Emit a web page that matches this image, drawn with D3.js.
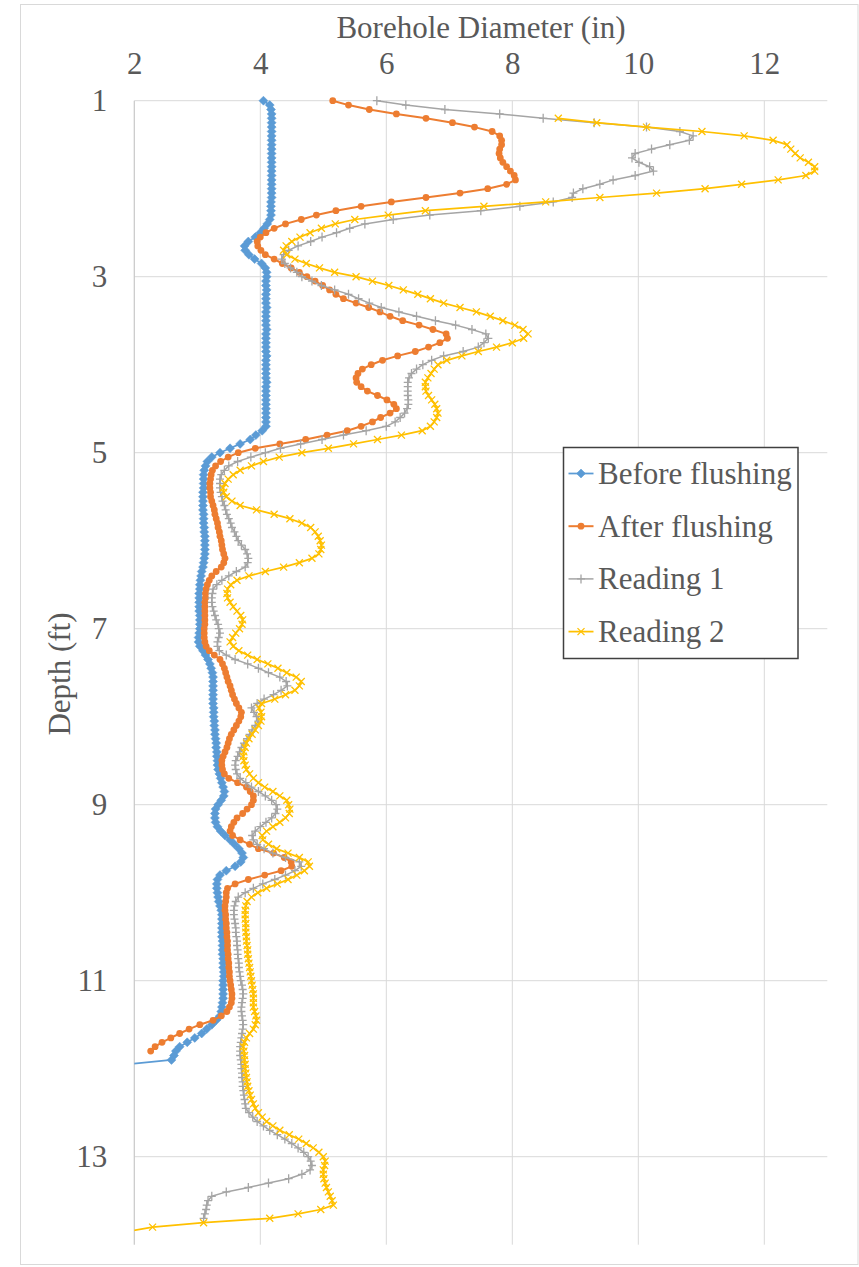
<!DOCTYPE html>
<html>
<head>
<meta charset="utf-8">
<script src="https://cdn.jsdelivr.net/npm/d3@7"></script>
<style>
  body { margin: 0; background: #fff; }
  svg { display: block; }
  svg text { font-family: "Liberation Serif", "DejaVu Serif", serif; }
</style>
</head>
<body>
<div id="chart"></div>
<script>
// Borehole caliper log: diameter vs depth, four runs

// ---- data, one value every 0.05 ft ----
const depthStep = 0.05;
const seriesNames = ["Before flushing", "After flushing", "Reading 1", "Reading 2"];
const xTicks = [2, 4, 6, 8, 10, 12];
const yTicks = [1, 3, 5, 7, 9, 11, 13];

const beforeStart = 1.0;
const beforeFlushing = [
  4.05,4.15,4.17,4.18,4.18,4.18,4.18,4.18,4.18,4.18,
  4.18,4.18,4.18,4.18,4.18,4.18,4.18,4.18,4.18,4.18,
  4.18,4.18,4.18,4.17,4.17,4.17,4.17,4.15,4.11,4.06,
  4.00,3.92,3.81,3.75,3.76,3.82,3.91,4.02,4.08,4.10,
  4.10,4.09,4.09,4.10,4.09,4.09,4.09,4.10,4.09,4.09,
  4.09,4.09,4.10,4.09,4.09,4.09,4.09,4.09,4.10,4.09,
  4.09,4.09,4.09,4.09,4.10,4.09,4.09,4.09,4.09,4.09,
  4.09,4.09,4.09,4.09,4.09,4.03,3.93,3.84,3.68,3.52,
  3.36,3.23,3.16,3.13,3.11,3.10,3.10,3.10,3.10,3.09,
  3.09,3.09,3.09,3.09,3.10,3.10,3.10,3.11,3.11,3.12,
  3.12,3.12,3.12,3.12,3.11,3.10,3.09,3.07,3.06,3.05,
  3.04,3.04,3.03,3.03,3.03,3.03,3.03,3.04,3.04,3.04,
  3.04,3.03,3.02,3.02,3.04,3.09,3.13,3.17,3.20,3.22,
  3.24,3.25,3.25,3.25,3.25,3.25,3.25,3.25,3.26,3.26,
  3.26,3.27,3.27,3.28,3.28,3.29,3.30,3.30,3.31,3.31,
  3.32,3.32,3.33,3.35,3.37,3.39,3.41,3.43,3.42,3.38,
  3.33,3.29,3.28,3.28,3.29,3.32,3.37,3.44,3.52,3.59,
  3.66,3.71,3.73,3.69,3.60,3.46,3.36,3.32,3.31,3.31,
  3.32,3.33,3.34,3.36,3.38,3.39,3.39,3.39,3.39,3.39,
  3.39,3.40,3.40,3.40,3.40,3.41,3.41,3.41,3.42,3.42,
  3.41,3.41,3.41,3.41,3.41,3.40,3.39,3.38,3.36,3.30,
  3.23,3.15,3.07,2.96,2.84,2.72,2.66,2.63,2.59,1.90
];

const afterStart = 1.0;
const afterFlushing = [
  5.15,5.40,5.73,6.16,6.63,7.05,7.40,7.68,7.80,7.83,
  7.83,7.80,7.79,7.81,7.85,7.91,7.97,8.03,8.05,7.91,
  7.61,7.17,6.63,6.08,5.60,5.20,4.89,4.65,4.40,4.22,
  4.09,4.00,3.95,3.96,4.01,4.08,4.22,4.35,4.49,4.62,
  4.74,4.87,4.99,5.10,5.20,5.32,5.52,5.72,5.90,6.06,
  6.26,6.52,6.74,6.95,6.97,6.85,6.67,6.46,6.18,5.94,
  5.76,5.62,5.55,5.52,5.53,5.60,5.70,5.86,6.01,6.12,
  6.16,6.06,5.91,5.78,5.60,5.38,5.06,4.72,4.31,3.92,
  3.65,3.49,3.37,3.29,3.24,3.22,3.21,3.20,3.20,3.21,
  3.21,3.23,3.25,3.27,3.28,3.30,3.32,3.33,3.35,3.36,
  3.38,3.39,3.40,3.42,3.44,3.42,3.38,3.30,3.23,3.19,
  3.16,3.14,3.13,3.13,3.12,3.12,3.12,3.12,3.12,3.12,
  3.11,3.11,3.11,3.12,3.14,3.19,3.27,3.36,3.40,3.43,
  3.45,3.47,3.49,3.52,3.54,3.56,3.59,3.62,3.66,3.70,
  3.69,3.66,3.62,3.58,3.54,3.51,3.49,3.47,3.44,3.41,
  3.39,3.39,3.40,3.43,3.50,3.64,3.78,3.84,3.89,3.89,
  3.86,3.79,3.72,3.63,3.58,3.54,3.52,3.56,3.68,3.83,
  3.97,4.21,4.38,4.49,4.50,4.33,4.07,3.81,3.60,3.48,
  3.46,3.46,3.45,3.44,3.44,3.45,3.45,3.46,3.46,3.47,
  3.47,3.48,3.48,3.48,3.49,3.49,3.50,3.50,3.51,3.51,
  3.52,3.53,3.54,3.55,3.55,3.54,3.51,3.47,3.38,3.25,
  3.04,2.87,2.72,2.58,2.44,2.33,2.26
];

const reading1Start = 1.0;
const reading1 = [
  5.85,6.31,6.93,7.80,8.49,9.30,10.13,10.66,10.87,10.81,
  10.50,10.21,9.95,9.90,10.01,10.18,10.24,9.95,9.60,9.39,
  9.12,8.97,8.95,8.65,8.12,7.50,6.69,6.11,5.66,5.42,
  5.21,4.98,4.80,4.60,4.45,4.37,4.34,4.39,4.48,4.58,
  4.66,4.82,4.97,5.18,5.40,5.56,5.73,5.92,6.20,6.48,
  6.78,7.10,7.36,7.58,7.62,7.55,7.46,7.22,6.91,6.72,
  6.58,6.48,6.40,6.36,6.34,6.34,6.34,6.34,6.35,6.35,
  6.33,6.29,6.22,6.14,6.00,5.68,5.32,4.98,4.64,4.32,
  4.08,3.85,3.64,3.50,3.43,3.38,3.36,3.36,3.36,3.37,
  3.39,3.40,3.43,3.45,3.47,3.50,3.53,3.55,3.59,3.62,
  3.65,3.70,3.76,3.79,3.81,3.80,3.76,3.62,3.50,3.39,
  3.31,3.25,3.24,3.23,3.23,3.24,3.26,3.28,3.30,3.33,
  3.34,3.36,3.34,3.32,3.32,3.35,3.46,3.60,3.80,3.97,
  4.13,4.31,4.41,4.43,4.33,4.21,4.06,3.95,3.86,3.90,
  3.94,3.97,3.92,3.87,3.83,3.79,3.74,3.70,3.67,3.64,
  3.61,3.60,3.61,3.63,3.68,3.77,3.86,3.97,4.08,4.18,
  4.25,4.27,4.24,4.18,4.09,4.00,3.92,3.87,3.89,3.95,
  4.06,4.20,4.40,4.62,4.65,4.55,4.40,4.23,4.04,3.89,
  3.76,3.65,3.61,3.59,3.58,3.58,3.59,3.60,3.61,3.61,
  3.62,3.63,3.63,3.64,3.64,3.65,3.66,3.66,3.67,3.68,
  3.69,3.71,3.72,3.73,3.72,3.71,3.70,3.70,3.71,3.72,
  3.73,3.72,3.71,3.70,3.69,3.68,3.68,3.68,3.69,3.70,
  3.70,3.71,3.71,3.72,3.72,3.73,3.74,3.75,3.76,3.77,
  3.82,3.88,3.95,4.05,4.15,4.27,4.39,4.50,4.60,4.69,
  4.76,4.80,4.82,4.79,4.66,4.45,4.13,3.81,3.46,3.23,
  3.17,3.15,3.14,3.12,3.10
];

const reading2Start = 1.2;
const reading2 = [
  8.73,9.34,10.13,11.01,11.68,12.14,
  12.36,12.42,12.49,12.57,12.70,12.80,12.80,12.66,12.22,11.64,
  11.06,10.29,9.39,8.53,7.55,6.62,6.03,5.50,5.19,4.97,
  4.79,4.63,4.50,4.41,4.37,4.42,4.55,4.73,4.94,5.18,
  5.52,5.78,6.04,6.27,6.50,6.70,6.91,7.17,7.43,7.65,
  7.85,8.04,8.17,8.25,8.18,8.00,7.75,7.46,7.20,6.96,
  6.82,6.76,6.71,6.66,6.62,6.62,6.63,6.67,6.72,6.77,
  6.80,6.82,6.80,6.76,6.70,6.57,6.24,5.86,5.48,5.08,
  4.66,4.30,4.05,3.86,3.68,3.57,3.49,3.44,3.41,3.42,
  3.46,3.55,3.68,3.94,4.22,4.47,4.66,4.80,4.87,4.92,
  4.95,4.97,4.96,4.93,4.82,4.62,4.37,4.08,3.82,3.63,
  3.53,3.48,3.47,3.48,3.52,3.57,3.63,3.69,3.72,3.71,
  3.67,3.61,3.56,3.52,3.57,3.66,3.80,3.95,4.12,4.28,
  4.42,4.57,4.65,4.62,4.55,4.40,4.23,4.02,3.98,4.01,
  4.02,4.01,3.97,3.92,3.87,3.82,3.78,3.76,3.74,3.73,
  3.74,3.76,3.78,3.83,3.89,3.97,4.07,4.20,4.31,4.42,
  4.45,4.47,4.46,4.40,4.31,4.20,4.10,4.03,4.04,4.13,
  4.26,4.44,4.62,4.76,4.78,4.70,4.58,4.44,4.27,4.10,
  3.96,3.86,3.79,3.77,3.76,3.76,3.76,3.77,3.77,3.77,
  3.78,3.78,3.79,3.80,3.80,3.81,3.82,3.83,3.84,3.85,
  3.86,3.87,3.88,3.89,3.89,3.89,3.89,3.91,3.93,3.94,
  3.92,3.89,3.83,3.78,3.75,3.73,3.74,3.75,3.75,3.76,
  3.76,3.77,3.78,3.79,3.80,3.82,3.84,3.86,3.89,3.92,
  3.97,4.03,4.10,4.20,4.31,4.46,4.61,4.73,4.84,4.93,
  5.00,5.03,5.02,5.00,5.00,5.01,5.03,5.05,5.08,5.11,
  5.14,5.16,4.96,4.60,4.15,3.10,2.29,1.90
];

// ---- layout ----
const W = 859, H = 1267;
const plot = {left: 134.3, right: 827.3, top: 100.7, bottom: 1244.7};
const fontFam = "Liberation Serif, DejaVu Serif, serif";
const textColor = "#595959";

const svg = d3.select("#chart")
  .append("svg")
    .attr("width", W)
    .attr("height", H)
    .attr("font-family", fontFam);

svg.append("rect").attr("width", W).attr("height", H).attr("fill", "#fff");

// chart area border
svg.append("rect")
  .attr("x", 20.5).attr("y", 4.5)
  .attr("width", 837.5).attr("height", 1260)
  .attr("fill", "none")
  .attr("stroke", "#d9d9d9");

// scales: diameter on top, depth reversed going down
const x = d3.scaleLinear().domain([2, 13]).range([plot.left, plot.right]);
const y = d3.scaleLinear().domain([1, 14]).range([plot.top, plot.bottom]);

// grid
svg.append("g")
  .selectAll("line")
  .data(xTicks.slice(1))
  .join("line")
    .attr("x1", d => x(d)).attr("x2", d => x(d))
    .attr("y1", plot.top).attr("y2", plot.bottom)
    .attr("stroke", "#d9d9d9").attr("stroke-width", 1);

svg.append("g")
  .selectAll("line")
  .data(yTicks)
  .join("line")
    .attr("x1", plot.left).attr("x2", plot.right)
    .attr("y1", d => y(d)).attr("y2", d => y(d))
    .attr("stroke", "#d9d9d9").attr("stroke-width", 1);

// vertical axis line
svg.append("line")
  .attr("x1", plot.left).attr("x2", plot.left)
  .attr("y1", plot.top).attr("y2", plot.bottom)
  .attr("stroke", "#c8c8c8").attr("stroke-width", 1.2);

// tick labels
const styleTicks = g => {
  g.attr("font-family", fontFam).attr("font-size", 31);
  g.select(".domain").remove();
  g.selectAll("text")
    .attr("fill", textColor)
    .attr("font-family", fontFam)
    .attr("font-size", 31);
};

svg.append("g")
  .attr("transform", `translate(0,${plot.top})`)
  .call(d3.axisTop(x).tickValues(xTicks).tickSize(0).tickPadding(27))
  .call(styleTicks);

svg.append("g")
  .attr("transform", `translate(${plot.left},0)`)
  .call(d3.axisLeft(y).tickValues(yTicks).tickSize(0).tickPadding(27))
  .call(styleTicks);

// axis titles
svg.append("text")
  .attr("x", 481).attr("y", 37.5)
  .attr("text-anchor", "middle")
  .attr("fill", textColor)
  .attr("font-family", fontFam).attr("font-size", 31)
  .text("Borehole Diameter (in)");

svg.append("text")
  .attr("transform", "translate(70,674) rotate(-90)")
  .attr("text-anchor", "middle")
  .attr("fill", textColor)
  .attr("font-family", fontFam).attr("font-size", 31)
  .text("Depth (ft)");

// ---- series ----
const toPoints = (start, vals) =>
  vals.map((v, i) => ({depth: start + i * depthStep, value: v}));

const series = [
  {name: seriesNames[0], pts: toPoints(beforeStart, beforeFlushing), color: "#5b9bd5", width: 1.75, mark: "diamond"},
  {name: seriesNames[1], pts: toPoints(afterStart, afterFlushing), color: "#ed7d31", width: 2, mark: "circle"},
  {name: seriesNames[2], pts: toPoints(reading1Start, reading1), color: "#a5a5a5", width: 1.5, mark: "plus"},
  {name: seriesNames[3], pts: toPoints(reading2Start, reading2), color: "#ffc000", width: 1.75, mark: "cross"}
];

const markPaths = {
  diamond: "M0,-4.5L4.5,0L0,4.5L-4.5,0Z",
  plus: "M-4,0H4M0,-4.5V4.5",
  cross: "M-3.5,-3.5L3.5,3.5M-3.5,3.5L3.5,-3.5"
};

function drawMark(sel, s) {
  if (s.mark === "circle") {
    sel.append("circle").attr("r", 3.4).attr("fill", s.color);
  } else if (s.mark === "diamond") {
    sel.append("path").attr("d", markPaths.diamond)
      .attr("fill", s.color).attr("stroke", s.color).attr("stroke-width", 0.5);
  } else {
    sel.append("path").attr("d", markPaths[s.mark])
      .attr("fill", "none").attr("stroke", s.color).attr("stroke-width", 1.3);
  }
}

svg.append("clipPath").attr("id", "plot-clip")
  .append("rect")
    .attr("x", plot.left).attr("y", plot.top - 8)
    .attr("width", plot.right - plot.left + 8)
    .attr("height", plot.bottom - plot.top + 8);

const line = d3.line()
  .x(d => x(d.value))
  .y(d => y(d.depth));

const seriesG = svg.append("g").attr("clip-path", "url(#plot-clip)");

series.forEach(s => {
  const g = seriesG.append("g");
  g.append("path")
    .datum(s.pts)
    .attr("d", line)
    .attr("fill", "none")
    .attr("stroke", s.color)
    .attr("stroke-width", s.width)
    .attr("stroke-linejoin", "round");
  g.selectAll("g.mark")
    .data(s.pts)
    .join("g")
      .attr("class", "mark")
      .attr("transform", d => `translate(${x(d.value)},${y(d.depth)})`)
      .each(function() { drawMark(d3.select(this), s); });
});

// ---- legend ----
const legend = svg.append("g");
legend.append("rect")
  .attr("x", 563.5).attr("y", 447.5)
  .attr("width", 234.5).attr("height", 211)
  .attr("fill", "#fff")
  .attr("stroke", "#404040")
  .attr("stroke-width", 1.5);

series.forEach((s, i) => {
  const ly = 473.5 + i * 52.7;
  const row = legend.append("g");
  row.append("line")
    .attr("x1", 568.5).attr("x2", 593.5)
    .attr("y1", ly).attr("y2", ly)
    .attr("stroke", s.color).attr("stroke-width", s.width);
  drawMark(row.append("g").attr("transform", `translate(581,${ly})`), s);
  row.append("text")
    .attr("x", 598).attr("y", ly + 10.5)
    .attr("fill", textColor)
    .attr("font-family", fontFam).attr("font-size", 31)
    .text(s.name);
});
</script>
</body>
</html>
